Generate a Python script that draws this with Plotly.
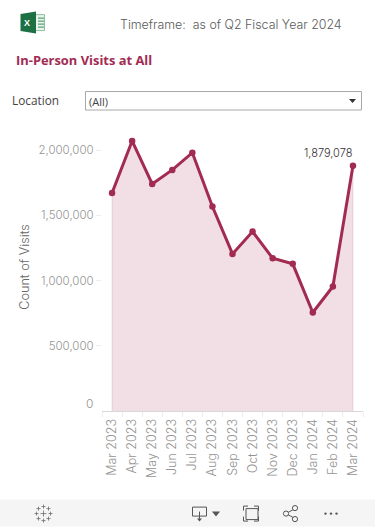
import plotly.graph_objects as go

months = ["Mar 2023","Apr 2023","May 2023","Jun 2023","Jul 2023","Aug 2023","Sep 2023","Oct 2023","Nov 2023","Dec 2023","Jan 2024","Feb 2024","Mar 2024"]
visits = [1671000,2070000,1740000,1848000,1980000,1567000,1204000,1375000,1171000,1128000,755000,954000,1879078]
y_ticks = [500000,1000000,1500000,2000000]
y_labels = ["500,000","1,000,000","1,500,000","2,000,000"]

W,H = 375,527
L,R,T,B = 102,363,125,411.3
Y_MAX = (B-T)/65.3*500000
MAROON = "#a22b52"
FONT = "Inter"
GREY = "#949494"

def mx(x): return (x-L)/(R-L)
def my(y): return (B-y)/(B-T)

fig = go.Figure()
fig.add_trace(go.Scatter(x=[months[0]]+months+[months[-1]], y=[0]+visits+[0], mode="lines", fill="toself",
    fillcolor="rgba(162,43,82,0.15)", line=dict(color="rgba(162,43,82,0.15)",width=1), hoverinfo="skip", showlegend=False))
fig.add_trace(go.Scatter(x=months, y=visits, mode="lines+markers", line=dict(color=MAROON,width=3),
    marker=dict(color=MAROON,size=6.5), showlegend=False))

fig.add_annotation(x=months[-1], y=visits[-1], text=f"{visits[-1]:,}", showarrow=False, xanchor="right", yanchor="bottom",
    xshift=2, yshift=4, font=dict(family=FONT,size=11,color="#333333",weight=300))
fig.add_annotation(x=0, xref="paper", y=0, text="0", showarrow=False, xanchor="right", yanchor="middle", xshift=-7, yshift=8,
    font=dict(family=FONT,size=12,color=GREY,weight=300))

def txt(x,y,t,size,color,weight=400,family=FONT,anchor="left"):
    fig.add_annotation(xref="paper",yref="paper",x=mx(x),y=my(y),text=t,showarrow=False,xanchor=anchor,yanchor="middle",
        font=dict(family=family,size=size,color=color,weight=weight))

txt(118,24,"Timeframe:  as of Q2 Fiscal Year 2024",12.4,"#5a5a5a",300)
txt(14,60,"In-Person Visits at All",12.9,MAROON,700,"Open Sans")
txt(10,99.5,"Location",11.8,"#444444",400,"Open Sans")
txt(87,101,"(All)",11,"#444444",400,"Open Sans")
fig.add_annotation(xref="paper",yref="paper",x=mx(25),y=my(267),text="Count of Visits",textangle=-90,showarrow=False,
    xanchor="center",yanchor="middle",font=dict(family=FONT,size=12.7,color="#666666",weight=300))

shapes=[]
def rect(x0,y0,x1,y1,fill=None,line=None,w=1,layer="above"):
    shapes.append(dict(type="rect",xref="paper",yref="paper",x0=mx(x0),x1=mx(x1),y0=my(y0),y1=my(y1),
        fillcolor=fill,line=dict(color=line,width=w if line else 0),layer=layer))
def seg(x0,y0,x1,y1,c="#555555",w=1):
    shapes.append(dict(type="line",xref="paper",yref="paper",x0=mx(x0),x1=mx(x1),y0=my(y0),y1=my(y1),line=dict(color=c,width=w)))
def poly(pts,fill,line=None):
    d="M "+" L ".join(f"{mx(x)},{my(y)}" for x,y in pts)+" Z"
    shapes.append(dict(type="path",xref="paper",yref="paper",path=d,fillcolor=fill,line=dict(color=line,width=1 if line else 0)))
def circ(cx,cy,r,c="#555555"):
    shapes.append(dict(type="circle",xref="paper",yref="paper",x0=mx(cx-r),x1=mx(cx+r),y0=my(cy-r),y1=my(cy+r),line=dict(color=c,width=1),fillcolor="#f5f5f5"))

# toolbar
rect(0,500,375,527,fill="#f5f5f5")
# dropdown
rect(85.5,91.5,361.5,110,fill="white",line="#a8a8a8")
poly([(349,99),(356,99),(352.5,103)],"#333333")
# excel icon
rect(33,14.5,44.5,30.5,fill="#e8f3ec",line="#8fbfa3")
for yy in (18,21,24,27): seg(38,yy,44,yy,"#3f8f62",1)
poly([(20.5,14),(36,11.5),(36,33.5),(20.5,31)],"#1d7044")
fig.add_annotation(xref="paper",yref="paper",x=mx(27),y=my(23),text="X",showarrow=False,xanchor="center",yanchor="middle",
    font=dict(family="Liberation Sans",size=9,color="white",weight=700))
# tableau icon
for cx,cy,s in [(43.5,514,3),(36.5,514,2),(50.5,514,2),(43.5,507,2),(43.5,521,2),(38.5,509,2),(48.5,509,2),(38.5,519,2),(48.5,519,2)]:
    seg(cx-s,cy,cx+s,cy,"#6a6a6a",0.8); seg(cx,cy-s,cx,cy+s,"#6a6a6a",0.8)
# download
rect(192.5,507.5,206.5,516.5,line="#555555")
seg(199.5,512,199.5,521); poly([(197,519),(202,519),(199.5,522)],"#555555")
poly([(212,512),(220,512),(216,517)],"#555555")
# fullscreen
rect(246,509,258,520,line="#555555")
for a,b,c,d in [(243.5,506.5,248,506.5),(243.5,506.5,243.5,511),(258.5,506.5,254,506.5),(258.5,506.5,258.5,511),(243.5,521.5,248,521.5),(243.5,521.5,243.5,517),(258.5,521.5,254,521.5),(258.5,521.5,258.5,517)]:
    seg(a,b,c,d)
# share
seg(286,514,295,509); seg(286,514,295,519)
circ(286,514,2.6); circ(295,508.5,2.6); circ(295,519.5,2.6)
# more
for cx in (325.5,331,336.5):
    shapes.append(dict(type="circle",xref="paper",yref="paper",x0=mx(cx-1.2),x1=mx(cx+1.2),y0=my(512.8),y1=my(515.2),fillcolor="#555555",line=dict(width=0)))

fig.update_layout(width=W,height=H,autosize=False,margin=dict(l=L,r=W-R,t=T,b=H-B,pad=0),
    paper_bgcolor="white",plot_bgcolor="white",shapes=shapes,showlegend=False,
    font=dict(family=FONT,size=12,color=GREY,weight=300),
    xaxis=dict(type="category",categoryorder="array",categoryarray=months,range=[-0.5,12.5],tickangle=-90,showgrid=False,zeroline=False,
        showline=True,linecolor="#d8d8d8",linewidth=1,ticks="outside",ticklen=5,tickcolor="#eeeeee",tickson="boundaries",ticklabelstandoff=2,
        tickfont=dict(family=FONT,size=12.5,color=GREY,weight=300),fixedrange=True),
    yaxis=dict(range=[0,Y_MAX],tickvals=y_ticks,ticktext=y_labels,showgrid=False,zeroline=False,showline=False,
        ticks="outside",ticklen=5,tickcolor="#eeeeee",tickfont=dict(family=FONT,size=11.5,color=GREY,weight=300),fixedrange=True))
fig.write_html("out.html",config=dict(displayModeBar=False),
    post_script="document.body.style.margin='0';document.documentElement.style.overflow='hidden';")
